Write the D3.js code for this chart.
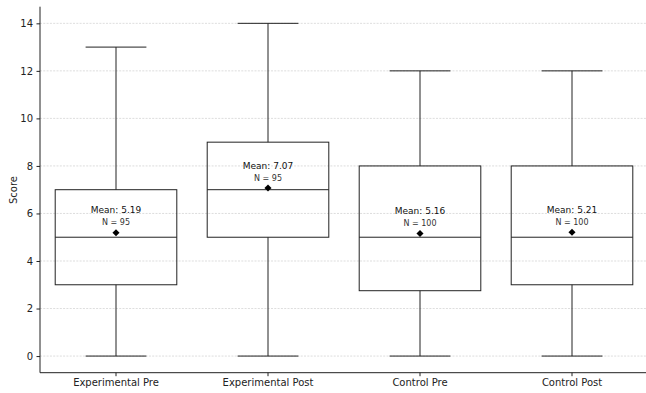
<!DOCTYPE html>
<html><head><meta charset="utf-8">
<script src="https://cdn.jsdelivr.net/npm/d3@7"></script>
<style>body{margin:0;background:#fff}svg{display:block}text{font-family:"DejaVu Sans",sans-serif}</style>
</head><body><svg id="c" width="646" height="393"></svg>
<script>
const categories = ["Experimental Pre","Experimental Post","Control Pre","Control Post"];
const whiskerLow = [0,0,0,0];
const q1 = [3,5,2.75,3];
const median = [5,7,5,5];
const q3 = [7,9,8,8];
const whiskerHigh = [13,14,12,12];
const means = [5.19,7.07,5.16,5.21];
const counts = [95,95,100,100];
const yTicks = [0,2,4,6,8,10,12,14];

const svg = d3.select("#c");
const mLeft = 40, mRight = 648, mTop = 6.7, mBottom = 372.7;
const y = d3.scaleLinear().domain([-0.7,14.7]).range([mBottom, mTop]);
const x = d3.scaleBand().domain(categories).range([mLeft, mRight]).paddingInner(0.2).paddingOuter(0.1);
const bw = x.bandwidth();
const cx = d => x(d) + bw/2;

svg.append("g").selectAll("line").data(yTicks).join("line")
  .attr("x1", mLeft).attr("x2", 646).attr("y1", d=>y(d)).attr("y2", d=>y(d))
  .attr("stroke","#d4d4d4").attr("stroke-width",0.8).attr("stroke-dasharray","2,1.3");

const data = categories.map((c,i)=>({c, lo:whiskerLow[i], q1:q1[i], med:median[i], q3:q3[i], hi:whiskerHigh[i], mean:means[i], n:counts[i]}));
const g = svg.append("g").selectAll("g").data(data).join("g");
const col = "#222";
g.append("line").attr("x1",d=>cx(d.c)).attr("x2",d=>cx(d.c)).attr("y1",d=>y(d.lo)).attr("y2",d=>y(d.q1)).attr("stroke",col);
g.append("line").attr("x1",d=>cx(d.c)).attr("x2",d=>cx(d.c)).attr("y1",d=>y(d.q3)).attr("y2",d=>y(d.hi)).attr("stroke",col);
g.append("line").attr("x1",d=>cx(d.c)-bw/4).attr("x2",d=>cx(d.c)+bw/4).attr("y1",d=>y(d.lo)).attr("y2",d=>y(d.lo)).attr("stroke",col);
g.append("line").attr("x1",d=>cx(d.c)-bw/4).attr("x2",d=>cx(d.c)+bw/4).attr("y1",d=>y(d.hi)).attr("y2",d=>y(d.hi)).attr("stroke",col);
g.append("rect").attr("x",d=>x(d.c)).attr("width",bw).attr("y",d=>y(d.q3)).attr("height",d=>y(d.q1)-y(d.q3))
  .attr("fill","none").attr("stroke",col).attr("stroke-width",1);
g.append("line").attr("x1",d=>x(d.c)).attr("x2",d=>x(d.c)+bw).attr("y1",d=>y(d.med)).attr("y2",d=>y(d.med)).attr("stroke",col);
g.append("path").attr("d", d3.symbol(d3.symbolDiamond2, 32)())
  .attr("transform", d=>`translate(${cx(d.c)},${y(d.mean)})`).attr("fill","#000");
g.append("text").attr("x",d=>cx(d.c)).attr("y",d=>y(d.mean)-19.5).attr("text-anchor","middle")
  .attr("font-size","9px").attr("fill","#111").text(d=>"Mean: "+d.mean.toFixed(2));
g.append("text").attr("x",d=>cx(d.c)).attr("y",d=>y(d.mean)-7.5).attr("text-anchor","middle")
  .attr("font-size","8px").attr("fill","#333").text(d=>"N = "+d.n);

const ya = svg.append("g").attr("transform",`translate(${mLeft},0)`)
  .call(d3.axisLeft(y).tickValues(yTicks).tickSize(3.5).tickPadding(3.5).tickSizeOuter(0));
ya.select(".domain").attr("d",`M0,${mTop}V${mBottom}`);
const xa = svg.append("g").attr("transform",`translate(0,${mBottom})`)
  .call(d3.axisBottom(x).tickSize(3.5).tickPadding(3).tickSizeOuter(0));
xa.select(".domain").attr("d",`M${mLeft},0H646`);
[ya,xa].forEach(a=>{a.selectAll("text").attr("font-size","10px").attr("fill","#222").attr("font-family","DejaVu Sans");
  a.selectAll("line,path").attr("stroke","#222");});
svg.append("text").attr("transform","translate(17,190) rotate(-90)").attr("text-anchor","middle")
  .attr("font-size","10px").attr("fill","#222").text("Score");
</script></body></html>
